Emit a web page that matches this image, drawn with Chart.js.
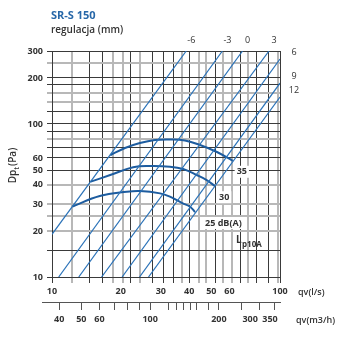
<!DOCTYPE html>
<html>
<head>
<meta charset="utf-8">
<script src="https://cdn.jsdelivr.net/npm/chart.js@4.4.0/dist/chart.umd.min.js"></script>
<style>
  html, body { margin: 0; padding: 0; background: #fff; }
</style>
</head>
<body>
<canvas id="chart" width="337" height="337"></canvas>
<script>
// regulation settings (mm), one system line each
const regLabels = ["-6", "-3", "0", "3", "6", "9", "12"];
// first and last point of each line: [qv l/s, Dp Pa]
const regStart = [[10, 19], [10.7, 10], [13.1, 10], [16.5, 10], [20.3, 10], [24.2, 10], [26.5, 10]];
const regEnd = [[38.8, 300], [55.9, 300], [68.5, 300], [89.5, 300], [100, 266], [100, 185], [100, 150]];

// sound level curves Lp10A
const dbLabels = ["35", "30", "25 dB(A)"];
const db35 = [[18.0, 62.5], [20.9, 69.7], [24.3, 75.1], [28.3, 78.6], [32.9, 79.2], [38.3, 78.0], [44.6, 72.9], [52.9, 65.6], [62.0, 57.5]];
const db30 = [[14.8, 42.0], [18.0, 46.4], [22.7, 52.1], [26.9, 53.1], [32.9, 52.6], [37.6, 50.8], [43.1, 46.4], [47.7, 43.0], [51.9, 39.2]];
const db25 = [[12.3, 28.9], [16.2, 33.8], [21.3, 36.1], [24.3, 36.5], [29.8, 35.2], [32.9, 33.5], [37.1, 30.5], [40.3, 28.8], [42.4, 26.6]];

// grid lines and tick labels
const xGridDark = [10, 14.6, 16.6, 22.2, 27.5, 30.8, 34, 40, 51.9, 66.8, 79.1, 88.7, 100];
const xGridLight = [12.2, 18.6, 20.4, 24.3, 37, 44.2, 47.6, 56.5, 61.3, 72.6, 98];
const xTickLabels = [10, 20, 30, 40, 50, 60, 100];
const m3hTicks = [40, 50, 60, 70, 80, 90, 100, 120, 130, 140, 150, 160, 180, 200, 250, 300, 350];
const m3hLabels = [40, 50, 60, 100, 200, 300, 350];
const yGridDark = [10, 15, 50, 60, 70, 90, 100, 120, 180, 200, 300];
const yGridLight = [20, 25, 30, 40, 80, 140, 160, 250];
const yTickLabels = [10, 20, 30, 40, 50, 60, 100, 200, 300];

const BLUE = "#2a72b8";
const CURVE = "#1d5c9f";
const INK = "#333";
const FONT = "'Open Sans', sans-serif";

Chart.defaults.font.family = FONT;
Chart.defaults.color = INK;

function pts(arr) {
    return arr.map(([x, y]) => ({ x, y }));
}

function uniqSorted(...lists) {
    return [...new Set(lists.flat())].sort((a, b) => a - b);
}

function gridColor(dark, light) {
    return (c) => {
        const v = c.tick && c.tick.value;
        if (dark.includes(v)) return "#3a3a3a";
        if (light.includes(v)) return "#b8b8b8";
        return "rgba(0,0,0,0)";
    };
}

function gridWidth(light) {
    return (c) => (c.tick && light.includes(c.tick.value) ? 2 : 1);
}

const datasets = [];
regStart.forEach((s, i) => {
    datasets.push({
        data: pts([s, regEnd[i]]),
        borderColor: BLUE,
        borderWidth: 1.2,
        showLine: true,
        pointRadius: 0,
        fill: false,
    });
});
[db35, db30, db25].forEach((curve) => {
    datasets.push({
        data: pts(curve),
        borderColor: CURVE,
        borderWidth: 2,
        showLine: true,
        pointRadius: 0,
        tension: 0.4,
        fill: false,
    });
});

function label(ctx, text, x, y, opts = {}) {
    ctx.font = opts.font || `bold 9px ${FONT}`;
    ctx.fillStyle = opts.color || INK;
    ctx.textAlign = opts.align || "center";
    ctx.textBaseline = "middle";
    if (opts.box) {
        const w = ctx.measureText(text).width;
        let left = x;
        if (ctx.textAlign === "center") left = x - w / 2;
        if (ctx.textAlign === "right") left = x - w;
        ctx.save();
        ctx.fillStyle = "#fff";
        ctx.fillRect(left - 2, y - 6, w + 4, 12);
        ctx.restore();
    }
    ctx.fillText(text, x, y);
}

const chartText = {
    id: "chartText",
    afterDatasetsDraw(chart) {
        const { ctx, chartArea, scales } = chart;
        const { x, y } = scales;
        ctx.save();

        // regulation values at the line ends
        regEnd.forEach(([q, p], i) => {
            const px = x.getPixelForValue(q);
            const py = y.getPixelForValue(p);
            if (p >= 300) {
                label(ctx, regLabels[i], px + 5, chartArea.top - 11, { font: `9px ${FONT}` });
            } else {
                label(ctx, regLabels[i], chartArea.right + 14, py - 7, { font: `9px ${FONT}` });
            }
        });

        // sound level labels next to the curve ends
        const dx = [4, 4, 10];
        [db35, db30, db25].forEach((curve, i) => {
            const [q, p] = curve[curve.length - 1];
            const px = x.getPixelForValue(q) + dx[i];
            const py = y.getPixelForValue(p) + 11;
            label(ctx, dbLabels[i], px, py, { align: "left", box: true });
        });

        // Lp10A
        ctx.font = `bold 10px ${FONT}`;
        ctx.fillStyle = INK;
        ctx.textAlign = "left";
        ctx.textBaseline = "alphabetic";
        ctx.fillText("L", 236, 243);
        ctx.font = `bold 8px ${FONT}`;
        ctx.fillText("p10A", 242, 247);
        ctx.restore();
    },
    afterDraw(chart) {
        const { ctx, chartArea, scales } = chart;
        ctx.save();

        // m3/h scale line runs a little past the plot on the left
        const by = Math.round(scales.x2.top) + 0.5;
        ctx.strokeStyle = "#555";
        ctx.lineWidth = 1;
        ctx.beginPath();
        ctx.moveTo(chartArea.left - 10, by);
        ctx.lineTo(chartArea.left, by);
        ctx.stroke();

        // heading
        ctx.textAlign = "left";
        ctx.textBaseline = "alphabetic";
        ctx.font = `bold 11px ${FONT}`;
        ctx.fillStyle = "#2767a8";
        ctx.fillText("SR-S 150", 51, 19);
        ctx.font = `600 10px ${FONT}`;
        ctx.fillStyle = INK;
        ctx.fillText("regulacja (mm)", 51, 33);

        // axis units on the right
        label(ctx, "qv(l/s)", chartArea.right + 18, 292, { align: "left", font: `600 9px ${FONT}` });
        label(ctx, "qv(m3/h)", chartArea.right + 16, 320, { align: "left", font: `600 9px ${FONT}` });

        // vertical axis title with subscript
        ctx.translate(12, 166);
        ctx.rotate(-Math.PI / 2);
        ctx.textBaseline = "alphabetic";
        ctx.font = `600 10px ${FONT}`;
        const w1 = ctx.measureText("Dp").width;
        ctx.font = `600 7px ${FONT}`;
        const w2 = ctx.measureText("t").width;
        ctx.font = `600 10px ${FONT}`;
        const w3 = ctx.measureText("(Pa)").width;
        let cx = -(w1 + w2 + w3) / 2;
        ctx.fillText("Dp", cx, 4);
        cx += w1;
        ctx.font = `600 7px ${FONT}`;
        ctx.fillText("t", cx, 7);
        cx += w2 + 1;
        ctx.font = `600 10px ${FONT}`;
        ctx.fillText("(Pa)", cx, 4);
        ctx.restore();
    },
};

new Chart(document.getElementById("chart"), {
    type: "scatter",
    data: { datasets },
    options: {
        responsive: false,
        animation: false,
        layout: { padding: { top: 51, right: 57, left: 0, bottom: 0 } },
        plugins: {
            legend: { display: false },
            tooltip: { enabled: false },
        },
        scales: {
            x: {
                type: "logarithmic",
                position: "bottom",
                min: 10,
                max: 100,
                weight: 0,
                afterBuildTicks(scale) {
                    scale.ticks = uniqSorted(xGridDark, xGridLight, xTickLabels).map((v) => ({ value: v }));
                },
                afterFit(scale) {
                    scale.height = 25;
                },
                grid: {
                    color: gridColor(xGridDark, xGridLight),
                    lineWidth: gridWidth(xGridLight),
                    tickLength: 6,
                },
                border: { display: true, color: "#3a3a3a", width: 1 },
                ticks: {
                    autoSkip: false,
                    maxRotation: 0,
                    minRotation: 0,
                    padding: 3,
                    font: { size: 9, weight: "bold" },
                    callback: (v) => (xTickLabels.includes(v) ? String(v) : ""),
                },
            },
            x2: {
                type: "logarithmic",
                position: "bottom",
                min: 37.2,
                max: 370,
                weight: 1,
                afterBuildTicks(scale) {
                    scale.ticks = m3hTicks.map((v) => ({ value: v }));
                },
                afterFit(scale) {
                    scale.height = 35;
                },
                grid: {
                    drawOnChartArea: false,
                    color: "#555",
                    tickLength: 8,
                },
                border: { display: true, color: "#555", width: 1 },
                ticks: {
                    autoSkip: false,
                    maxRotation: 0,
                    minRotation: 0,
                    padding: 4,
                    font: { size: 9, weight: "bold" },
                    // the two last labels sit close together, pull 300 away from 350
                    callback: (v) => {
                        if (!m3hLabels.includes(v)) return "";
                        if (v === 300) return "\u2002\u2002\u2002\u2002300\u2002\u2002\u2002\u2002\u2002\u2002\u2002\u2002";
                        if (v === 350) return "350\u2002\u2002";
                        return String(v);
                    },
                },
            },
            y: {
                type: "logarithmic",
                min: 10,
                max: 300,
                afterBuildTicks(scale) {
                    scale.ticks = uniqSorted(yGridDark, yGridLight).map((v) => ({ value: v }));
                },
                afterFit(scale) {
                    scale.width = 52;
                },
                grid: {
                    color: gridColor(yGridDark, yGridLight),
                    lineWidth: gridWidth(yGridLight),
                    tickLength: 5,
                },
                border: { display: true, color: "#3a3a3a", width: 1 },
                ticks: {
                    autoSkip: false,
                    padding: 4,
                    font: { size: 9, weight: "bold" },
                    callback: (v) => (yTickLabels.includes(v) ? String(v) : ""),
                },
            },
        },
    },
    plugins: [chartText],
});
</script>
</body>
</html>
